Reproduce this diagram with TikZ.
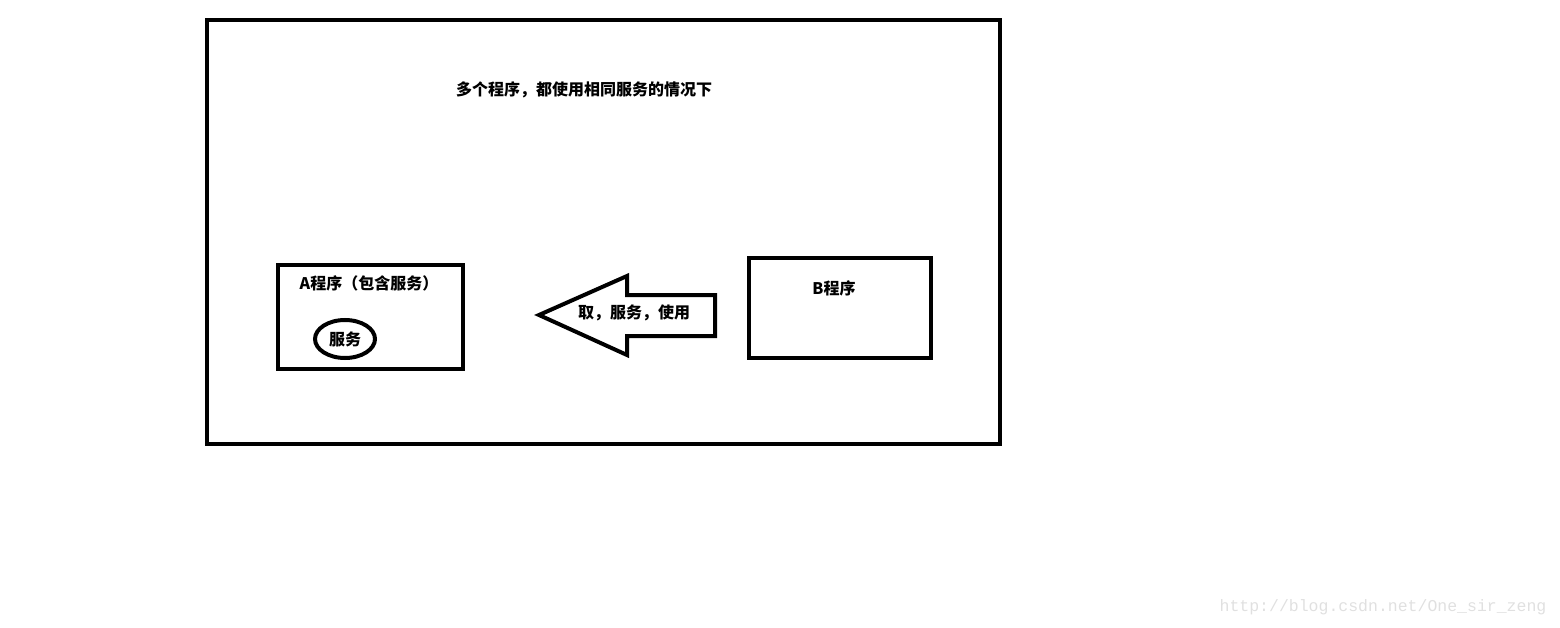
\documentclass[tikz,border=0pt]{standalone}
\usepackage{fontspec}
\setmainfont{Noto Sans CJK SC}
\setmonofont{Liberation Mono}
\usepackage{tikz}
\usetikzlibrary{shapes.geometric}
\usetikzlibrary{positioning}

\begin{document}
\begin{tikzpicture}[
  x=1pt, y=-1pt,
  every node/.style={inner sep=0pt, font=\fontsize{16}{19}\selectfont\bfseries},
  frame/.style={draw, line width=4.5pt},
  prog/.style={draw, line width=4pt},
]
  \useasboundingbox (0,0) rectangle (1560,628);

  % Nodes
  \draw[frame] (207,20) rectangle (1000,444);
  \node (title) at (584,90) {多个程序，都使用相同服务的情况下};

  \node[prog, minimum width=185pt, minimum height=104pt] (a) at (370.5,317) {};
  \node (alabel) at (369,283) {A程序（包含服务）};
  \node[prog, ellipse, minimum width=60pt, minimum height=38pt] (svc) at (345,339) {服务};

  \node[prog, minimum width=182pt, minimum height=100pt] (b) at (840,308) {};
  \node (blabel) at (834,288) {B程序};

  % Arrow
  \draw[prog, line join=miter] (715,295) -- (627,295) -- (627,276) -- (539,315)
    -- (627,355) -- (627,336) -- (715,336) -- cycle;
  \node (use) at (634,313) {取，服务，使用};

  \node[font=\ttfamily\fontsize{16.5}{19}\selectfont, text=black!12] (mark) at (1383,607)
    {http://blog.csdn.net/One\_sir\_zeng};
\end{tikzpicture}
\end{document}
